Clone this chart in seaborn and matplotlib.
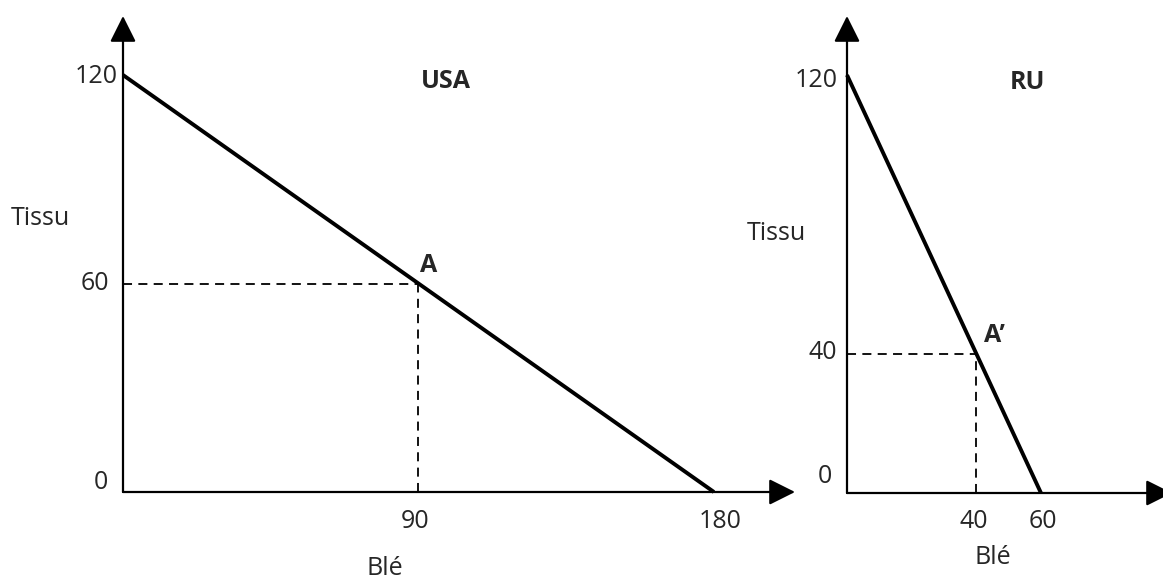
import numpy as np
import pandas as pd
import seaborn as sns
import matplotlib.pyplot as plt

sns.set_style("white")
plt.rcParams['font.family'] = ['Open Sans', 'DejaVu Sans']

## data: production possibility frontiers
usa_ble = [0, 180]
usa_tissu = [120, 0]
usa_point = (90, 60)          # A
ru_ble = [0, 60]
ru_tissu = [120, 0]
ru_point = (40, 40)           # A'

W, H = 1163, 581
FS = 18

fig = plt.figure(figsize=(W / 100, H / 100), dpi=100)


def make_axes(x0, y0, x_tip, y_tip, xmax_px_unit, ymax_px_unit):
    # x0, y0: pixel position of data origin; x_tip, y_tip: arrow tips (pixels)
    ax = fig.add_axes([x0 / W, (H - y0) / H, (x_tip - x0) / W, (y0 - y_tip) / H])
    ax.set_xlim(0, (x_tip - x0) / xmax_px_unit)
    ax.set_ylim(0, (y0 - y_tip) / ymax_px_unit)
    ax.patch.set_alpha(0)
    for s in ax.spines.values():
        s.set_visible(False)
    ax.set_xticks([])
    ax.set_yticks([])
    arrow = dict(arrowstyle="-|>,head_length=1.0,head_width=0.5", color="black",
                 lw=1.6, mutation_scale=16, shrinkA=0, shrinkB=0)
    ax.annotate("", xy=(1, 0), xytext=(0, 0), xycoords="axes fraction",
                arrowprops=arrow, annotation_clip=False)
    ax.annotate("", xy=(0, 1), xytext=(0, 0), xycoords="axes fraction",
                arrowprops=arrow, annotation_clip=False)
    return ax


def panel(ax, ble, tissu, pt, name, pt_label, ytick_pos, xtick_pos, lab):
    df = pd.DataFrame({"Blé": ble, "Tissu": tissu})
    sns.lineplot(data=df, x="Blé", y="Tissu", ax=ax, color="black", lw=2.8,
                 clip_on=False, solid_capstyle="butt")
    ax.plot([0, pt[0]], [pt[1], pt[1]], ls=(0, (5, 3.5)), color="black", lw=1.3, clip_on=False)
    ax.plot([pt[0], pt[0]], [0, pt[1]], ls=(0, (5, 3.5)), color="black", lw=1.3, clip_on=False)
    ax.set_xlabel("")
    ax.set_ylabel("")
    for v, (tx, ty) in ytick_pos.items():
        ax.text(tx, ty, v, ha="right", va="center", fontsize=FS)
    for v, (tx, ty) in xtick_pos.items():
        ax.text(tx, ty, v, ha="center", va="center", fontsize=FS)
    ax.text(*lab["name"], name, ha="center", va="center", fontsize=FS, fontweight="bold")
    ax.text(*lab["pt"], pt_label, ha="center", va="center", fontsize=FS, fontweight="bold")
    ax.text(*lab["tissu"], "Tissu", ha="center", va="center", fontsize=FS)
    ax.text(*lab["ble"], "Blé", ha="center", va="center", fontsize=FS)


# USA panel
ax1 = make_axes(123, 492, 795, 16, 3.283, 3.475)
panel(ax1, usa_ble, usa_tissu, usa_point, "USA", "A",
      {"120": (-1.6, 119.5), "60": (-4.3, 60), "0": (-4.5, 2.6)},
      {"90": (89, -8.6), "180": (182, -8.6)},
      {"name": (98.4, 118), "pt": (93.2, 65.3), "tissu": (-25.3, 78.8), "ble": (79.8, -21.9)})

# RU panel
ax2 = make_axes(847, 493, 1172, 16, 3.233, 3.483)
panel(ax2, ru_ble, ru_tissu, ru_point, "RU", "A’",
      {"120": (-2.8, 118.5), "40": (-3.1, 40.2), "0": (-4.6, 4.6)},
      {"40": (39.3, -8.3), "60": (60.6, -8.3)},
      {"name": (55.7, 118), "pt": (45.5, 45.1), "tissu": (-21.7, 74.6), "ble": (45.2, -18.4)})

fig.savefig("out.png", dpi=100)
